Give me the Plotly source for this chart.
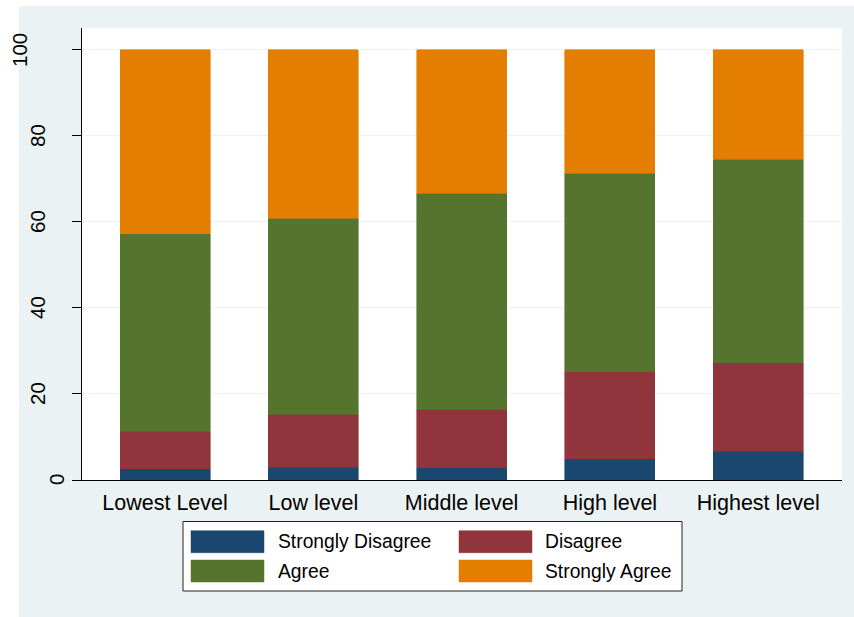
import plotly.graph_objects as go

# ---- data ----
categories = ["Lowest Level", "Low level", "Middle level", "High level", "Highest level"]
strongly_disagree = [2.6, 3.0, 2.8, 5.0, 6.7]
disagree = [8.7, 12.3, 13.6, 20.2, 20.6]
agree = [46.0, 45.6, 50.3, 46.1, 47.3]
strongly_agree = [42.7, 39.1, 33.3, 28.7, 25.4]
series_names = ["Strongly Disagree", "Disagree", "Agree", "Strongly Agree"]
series_colors = ["#1A476F", "#90353B", "#55752F", "#E37E00"]
y_ticks = [0, 20, 40, 60, 80, 100]

# ---- geometry helpers (pixel -> paper) ----
W, H = 854, 617
PL, PR, PT, PB = 82, 842, 28, 480


def px(x):
    return (x - PL) / (PR - PL)


def py(y):
    return (PB - y) / (PB - PT)


FONT = "Liberation Sans, Arial, sans-serif"

fig = go.Figure()
for name, vals, col in zip(series_names,
                           [strongly_disagree, disagree, agree, strongly_agree],
                           series_colors):
    fig.add_trace(go.Bar(x=categories, y=vals, name=name, marker_color=col,
                         marker_line_width=0.6, marker_line_color=col,
                         width=0.607, showlegend=False))

shapes = [
    dict(type="rect", xref="paper", yref="paper", x0=px(19), x1=px(856),
         y0=py(620), y1=py(6), fillcolor="#EAF2F3", line_width=0, layer="below"),
    dict(type="rect", xref="paper", yref="paper", x0=0, x1=1, y0=0, y1=1,
         fillcolor="white", line_width=0, layer="below"),
    # legend box
    dict(type="rect", xref="paper", yref="paper", x0=px(183), x1=px(682),
         y0=py(591), y1=py(521.5), fillcolor="white",
         line=dict(color="#222222", width=1), layer="above"),
]
annotations = []

# manual legend
leg_cells = [(191, 276, 541.7), (459, 543, 541.7), (191, 276, 571), (459, 543, 571)]
for (sx, tx, cy), name, col in zip(leg_cells, series_names, series_colors):
    shapes.append(dict(type="rect", xref="paper", yref="paper",
                       x0=px(sx), x1=px(sx + 73), y0=py(cy + 11), y1=py(cy - 11),
                       fillcolor=col, line=dict(color=col, width=0.5), layer="above"))
    annotations.append(dict(text=name, xref="paper", yref="paper", x=px(tx), y=py(cy),
                            xanchor="left", yanchor="middle", showarrow=False,
                            font=dict(family=FONT, size=19.3, color="black")))

# y tick labels (vertical, Stata-style placement)
for t in y_ticks:
    s = str(t)
    cx = 56 - 18 * (len(s) - 1)
    annotations.append(dict(text=s, xref="paper", yref="y", x=px(cx), y=t,
                            xanchor="center", yanchor="middle", textangle=-90,
                            showarrow=False,
                            font=dict(family=FONT, size=20.5, color="black")))

fig.update_layout(
    width=W, height=H,
    margin=dict(l=PL, r=W - PR, t=PT, b=H - PB, pad=0),
    barmode="stack",
    paper_bgcolor="white",
    plot_bgcolor="rgba(0,0,0,0)",
    shapes=shapes,
    annotations=annotations,
    showlegend=False,
    bargap=0.4,
)
fig.update_xaxes(
    range=[-0.56, 4.565], showline=True, linecolor="black", linewidth=1,
    ticks="", showgrid=False, zeroline=False,
    tickfont=dict(family=FONT, size=21.5, color="black"),
    ticklabelstandoff=3,
)
fig.update_yaxes(
    range=[0, 105.1], tickvals=y_ticks, showticklabels=False,
    showline=True, linecolor="black", linewidth=1,
    ticks="outside", ticklen=9, tickcolor="black", tickwidth=1,
    showgrid=True, gridcolor="#EAF2F3", gridwidth=1, zeroline=False,
)

fig.write_html("out.html",
               config={"displayModeBar": False},
               post_script="document.body.style.margin='0';document.body.style.overflow='hidden';")
